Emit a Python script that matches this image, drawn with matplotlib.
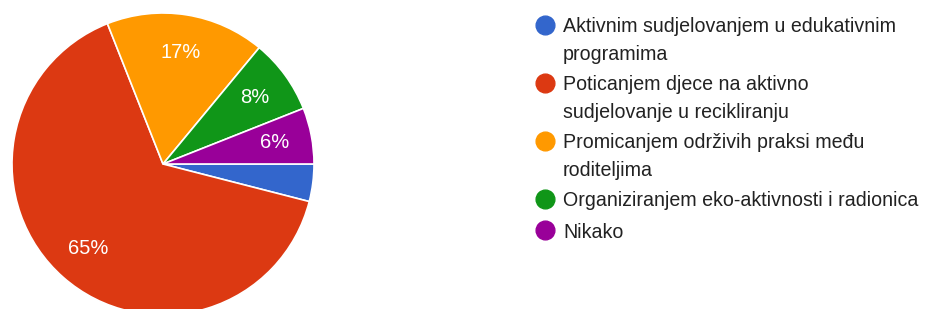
import matplotlib
matplotlib.use('Agg')
import matplotlib.pyplot as plt
from matplotlib.lines import Line2D

# answers and share of responses (%)
labels = ['Aktivnim sudjelovanjem u edukativnim\nprogramima',
          'Poticanjem djece na aktivno\nsudjelovanje u recikliranju',
          'Promicanjem održivih praksi među\nroditeljima',
          'Organiziranjem eko-aktivnosti i radionica',
          'Nikako']
values = [4, 65, 17, 8, 6]
colors = ['#3366cc', '#dc3912', '#ff9900', '#109618', '#990099']

plt.rcParams['font.family'] = ['Liberation Sans', 'DejaVu Sans']

W, H = 926, 309
fig = plt.figure(figsize=(W / 100, H / 100), dpi=100)

# pie placed in pixel space: centre (163, 164), radius 151
cx, cy, r = 163, 164, 151
ax = fig.add_axes([(cx - r) / W, (H - cy - r) / H, 2 * r / W, 2 * r / H])

def pct_label(p):
    return '%d%%' % round(p) if p >= 5 else ''

wedges, texts, autotexts = ax.pie(values, colors=colors, startangle=0, counterclock=False,
                                  autopct=pct_label, pctdistance=0.75, radius=1,
                                  wedgeprops=dict(edgecolor='white', linewidth=1.2),
                                  textprops=dict(color='white', fontsize=14.5))
ax.set_xlim(-1, 1)
ax.set_ylim(-1, 1)
ax.set_aspect('equal')
ax.axis('off')

# legend, drawn by hand so the dot lines up with the first text line
y = 25
for lab, col in zip(labels, colors):
    lines = lab.split('\n')
    fig.add_artist(Line2D([545 / W], [1 - y / H], marker='o', markersize=13.5,
                          markerfacecolor=col, markeredgecolor=col, linestyle='none',
                          transform=fig.transFigure))
    for j, line in enumerate(lines):
        fig.text(563 / W, 1 - (y + 7.5 + 27 * j) / H, line, fontsize=14.1,
                 color='#222222', va='baseline', ha='left')
    y += 31 + 27 * (len(lines) - 1)

fig.savefig('out.png', dpi=100)
